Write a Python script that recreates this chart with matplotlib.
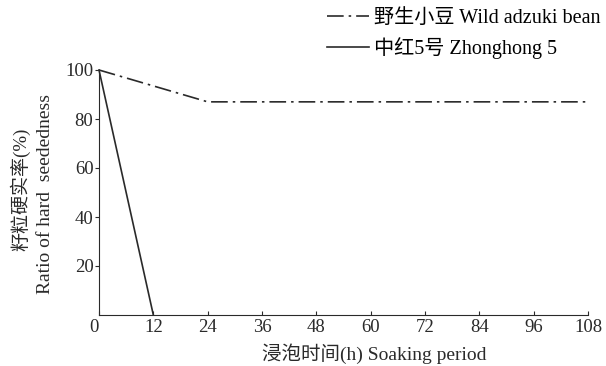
import matplotlib.pyplot as plt

plt.rcParams['font.family'] = ['Liberation Serif', 'Noto Sans CJK SC']

# soaking period (h) and hard seed ratio (%)
wild_hours = [0, 12, 24, 36, 48, 60, 72, 84, 96, 108]
wild_ratio = [100, 93.5, 87, 87, 87, 87, 87, 87, 87, 87]
zh_hours = [0, 12]
zh_ratio = [100, 0]

xticks = [0, 12, 24, 36, 48, 60, 72, 84, 96, 108]
yticks = [20, 40, 60, 80, 100]

fig = plt.figure(figsize=(6.06, 3.66), dpi=100)
ax = fig.add_axes([99 / 606, 51 / 366, 489 / 606, 245 / 366])

line_color = '#2a2a2a'
ax.plot(wild_hours, wild_ratio, color=line_color, lw=1.2, dashes=(10, 3, 1.5, 3),
        label='野生小豆 Wild adzuki bean', clip_on=False)
ax.plot(zh_hours, zh_ratio, color=line_color, lw=1.2,
        label='中红5号 Zhonghong 5', clip_on=False)

ax.set_xlim(0, 108)
ax.set_ylim(0, 100)
ax.set_xticks(xticks)
ax.set_yticks(yticks)
ax.spines['top'].set_visible(False)
ax.spines['right'].set_visible(False)
ax.spines['left'].set_color(line_color)
ax.spines['bottom'].set_color(line_color)
ax.tick_params(axis='x', direction='in', length=3, labelsize=13.5, pad=3, colors=line_color)
ax.tick_params(axis='y', direction='out', length=3, labelsize=13.5, pad=1, colors=line_color)
for lbl in ax.get_xticklabels():
    if lbl.get_text() == '0':
        lbl.set_horizontalalignment('right')

fig.text(374 / 606, 1 - 354 / 366, '浸泡时间(h) Soaking period', ha='center', va='center',
         fontsize=14, color=line_color)
fig.text(20 / 606, 1 - 189 / 366, '籽粒硬实率(%)', rotation=90, ha='center', va='center',
         fontsize=13.7, color=line_color)
fig.text(46 / 606, 1 - 194 / 366, 'Ratio of hard  seededness', rotation=90, ha='center',
         va='center', fontsize=14, color=line_color)

ax.legend(loc='upper right', bbox_to_anchor=(601 / 606, 1 - 9 / 366),
          bbox_transform=fig.transFigure, frameon=False, fontsize=14.5,
          handlelength=2.1, handletextpad=0.25, labelspacing=0.45,
          borderpad=0, borderaxespad=0)

plt.savefig('out.png', dpi=100)
